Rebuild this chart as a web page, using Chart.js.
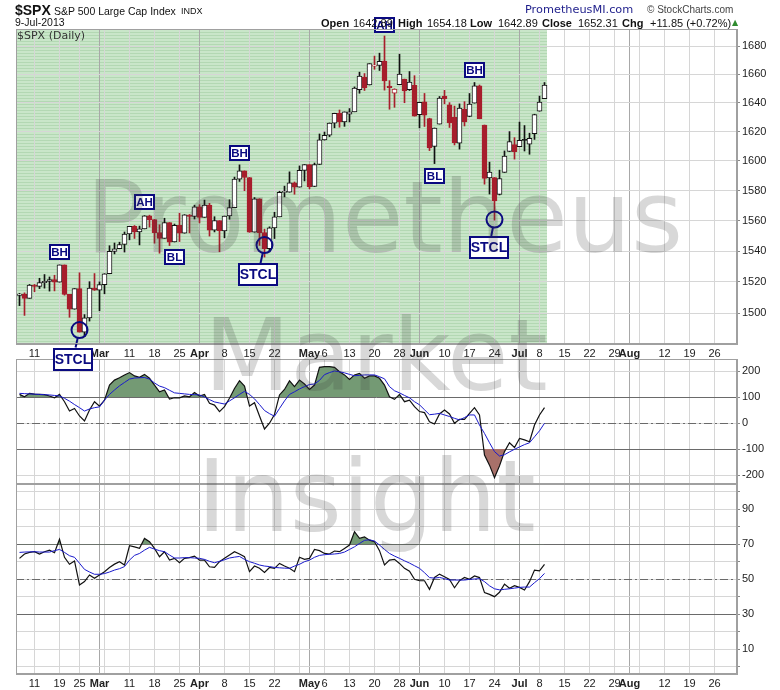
<!DOCTYPE html>
<html>
<head>
<meta charset="utf-8">
<title>$SPX</title>
<script src="https://cdn.jsdelivr.net/npm/chart.js@4.4.1/dist/chart.umd.min.js"></script>
<style>
  body { margin:0; width:780px; height:690px; background:#fff; position:relative; overflow:hidden; font-family:"DejaVu Sans", Verdana, sans-serif; color:#111; }
  .txt { position:absolute; white-space:nowrap; line-height:1; z-index:30; }
  .b { font-weight:bold; font-family:"Liberation Sans", Arial, sans-serif; }
  .n { font-family:"Liberation Sans", Arial, sans-serif; }
  .panel { position:absolute; left:0; width:780px; }
  .wm { position:absolute; font-family:"DejaVu Sans", sans-serif; font-size:100px; line-height:100px; color:rgba(60,60,60,0.2); white-space:nowrap; pointer-events:none; z-index:20; }
</style>
</head>
<body>
<div class="txt b" style="left:15px;top:3px;font-size:14px">$SPX</div>
<div class="txt n" style="left:54px;top:6px;font-size:10.5px">S&amp;P 500 Large Cap Index</div>
<div class="txt n" style="left:181px;top:7px;font-size:9px">INDX</div>
<div class="txt n" style="left:15px;top:17px;font-size:10.5px">9-Jul-2013</div>
<div class="txt" style="left:525px;top:4px;font-size:11.3px;color:#1c1c8a">PrometheusMI.com</div>
<div class="txt n" style="left:647px;top:5px;font-size:10px;color:#444">© StockCharts.com</div>
<div class="txt b" style="left:321px;top:18px;font-size:11px">Open</div>
<div class="txt n" style="left:353px;top:18px;font-size:11px">1642.89</div>
<div class="txt b" style="left:398px;top:18px;font-size:11px">High</div>
<div class="txt n" style="left:427px;top:18px;font-size:11px">1654.18</div>
<div class="txt b" style="left:470px;top:18px;font-size:11px">Low</div>
<div class="txt n" style="left:498px;top:18px;font-size:11px">1642.89</div>
<div class="txt b" style="left:542px;top:18px;font-size:11px">Close</div>
<div class="txt n" style="left:578px;top:18px;font-size:11px">1652.31</div>
<div class="txt b" style="left:622px;top:18px;font-size:11px">Chg</div>
<div class="txt n" style="left:650px;top:18px;font-size:11px">+11.85 (+0.72%)</div>
<div class="txt" style="left:732px;top:19px;font-size:8px;color:#2e8b2e">▲</div>
<div class="txt" style="left:17px;top:30px;font-size:11px;color:#333">$SPX (Daily)</div>

<div class="panel" style="top:484px;height:206px;z-index:1"><canvas id="rsiChart" width="780" height="206"></canvas></div>
<div class="panel" style="top:359px;height:125px;z-index:2"><canvas id="cciChart" width="780" height="125"></canvas></div>
<div class="panel" style="top:0;height:372px;z-index:3"><canvas id="priceChart" width="780" height="372"></canvas></div>

<div class="wm" style="left:86px;top:168px">Prometheus</div>
<div class="wm" style="left:204px;top:306px">Market</div>
<div class="wm" style="left:197px;top:447px">Insight</div>

<script>
// Données : séances du 6 février au 9 juillet 2013
const firstDay = '2013-02-06';
const holidays = ['2013-02-18', '2013-03-29', '2013-05-27', '2013-07-04', '2013-09-02'];
const monthNames = ['Jan', 'Feb', 'Mar', 'Apr', 'May', 'Jun', 'Jul', 'Aug', 'Sep', 'Oct', 'Nov', 'Dec'];

const opens = [1511.29,1512.12,1509.39,1517.93,1517.01,1519.43,1520.33,1521.38,1519.79,1530.94,
  1511.95,1502.42,1515.60,1487.85,1496.94,1515.99,1514.68,1518.20,1525.20,1539.79,
  1541.46,1544.26,1551.15,1556.22,1552.48,1554.52,1563.21,1560.70,1552.10,1548.34,
  1558.71,1545.90,1556.89,1551.69,1563.75,1562.86,1569.18,1562.17,1570.25,1553.69,
  1559.98,1553.26,1563.11,1568.61,1587.73,1593.30,1588.84,1552.36,1574.57,1552.03,
  1541.61,1555.25,1562.50,1578.78,1578.93,1585.16,1582.34,1593.58,1597.55,1582.77,
  1597.60,1614.40,1617.55,1625.95,1632.69,1626.69,1632.10,1633.75,1649.13,1658.07,
  1652.45,1665.71,1666.20,1669.39,1651.62,1646.67,1652.63,1656.57,1649.14,1652.13,
  1631.71,1640.73,1629.05,1609.94,1625.27,1644.67,1638.64,1629.94,1612.15,1635.52,
  1630.64,1639.77,1651.83,1624.62,1588.62,1588.77,1577.52,1592.27,1606.44,1611.12,
  1609.78,1614.29,1611.48,1618.65,1634.20,1642.89];
const highs = [1512.53,1512.90,1518.31,1518.31,1522.29,1524.69,1523.14,1524.24,1530.94,1530.94,
  1511.95,1515.64,1525.84,1498.99,1520.08,1525.34,1519.99,1525.27,1543.47,1545.25,
  1545.78,1552.48,1556.27,1556.77,1556.39,1563.32,1563.62,1560.70,1557.25,1561.56,
  1558.71,1557.74,1564.91,1563.95,1564.07,1570.28,1570.57,1573.66,1571.47,1562.60,
  1559.98,1563.07,1573.89,1589.07,1597.35,1593.30,1588.84,1575.35,1574.57,1554.38,
  1555.89,1565.55,1579.58,1583.00,1592.64,1585.78,1596.65,1597.57,1597.55,1598.60,
  1618.46,1619.77,1626.03,1632.78,1635.01,1633.70,1636.00,1651.10,1661.49,1660.51,
  1667.47,1672.84,1674.93,1687.18,1655.50,1649.78,1674.21,1656.57,1661.91,1658.99,
  1640.42,1646.53,1629.31,1622.56,1644.40,1648.69,1640.13,1637.71,1639.25,1640.80,
  1646.50,1654.19,1652.45,1624.62,1599.19,1588.77,1593.79,1606.83,1620.07,1615.94,
  1626.61,1624.26,1618.97,1632.07,1644.68,1654.18];
const lows = [1504.71,1498.49,1509.39,1513.61,1515.61,1515.93,1514.02,1514.14,1519.79,1511.41,
  1497.29,1502.42,1487.85,1485.01,1494.88,1514.46,1501.48,1512.29,1525.20,1538.11,
  1541.46,1539.32,1547.36,1548.24,1544.00,1554.52,1555.74,1545.13,1538.57,1548.34,
  1543.55,1545.90,1546.22,1551.69,1551.90,1561.08,1558.47,1562.17,1549.80,1552.52,
  1539.50,1548.63,1560.92,1568.61,1586.17,1579.97,1552.28,1552.36,1543.69,1536.03,
  1539.40,1548.19,1562.50,1575.80,1578.93,1577.56,1582.34,1586.50,1581.28,1582.77,
  1597.60,1614.21,1616.64,1622.70,1623.09,1623.71,1626.74,1633.75,1646.68,1648.60,
  1652.45,1663.52,1662.67,1648.86,1635.53,1636.88,1652.63,1640.05,1648.61,1630.74,
  1622.72,1623.62,1607.09,1598.23,1625.27,1639.26,1622.92,1610.92,1608.07,1623.96,
  1630.34,1639.77,1628.91,1584.32,1577.70,1560.33,1577.09,1592.27,1606.44,1601.27,
  1609.78,1606.77,1604.57,1614.71,1634.20,1642.89];
const closes = [1512.12,1509.39,1517.93,1517.01,1519.43,1520.33,1521.38,1519.79,1530.94,1511.95,
  1502.42,1515.60,1487.85,1496.94,1515.99,1514.68,1518.20,1525.20,1539.79,1541.46,
  1544.26,1551.18,1556.22,1552.48,1554.52,1563.23,1560.70,1552.10,1548.34,1558.71,
  1545.80,1556.89,1551.69,1563.77,1562.85,1569.19,1562.17,1570.25,1553.69,1559.98,
  1553.28,1563.07,1568.61,1587.73,1593.37,1588.85,1552.36,1574.57,1552.01,1541.61,
  1555.25,1562.50,1578.78,1578.79,1585.16,1582.24,1593.61,1597.57,1582.70,1597.59,
  1614.42,1617.50,1625.96,1632.69,1626.67,1633.70,1633.77,1650.34,1658.78,1650.47,
  1667.47,1666.29,1669.16,1655.35,1650.51,1649.60,1660.06,1648.36,1654.41,1630.74,
  1640.42,1631.38,1608.90,1622.56,1643.38,1642.81,1626.13,1612.52,1636.36,1626.73,
  1639.04,1651.81,1628.93,1588.19,1592.43,1573.09,1588.03,1603.26,1613.20,1606.28,
  1614.08,1614.08,1615.41,1631.89,1640.46,1652.31];
const prevClose = 1511.29; // clôture du 5 février

// CCI (ligne noire) et sa moyenne (bleue)
const cciLine = [110,101,114,111,110,109,104,97,110,82,46,56,27,8,50,82,65,88,146,165,
  174,185,194,181,176,187,172,146,120,127,92,97,97,104,101,117,104,110,76,69,
  44,63,95,133,163,142,65,78,27,-23,-1,33,108,129,162,140,165,150,129,146,
  214,217,217,214,197,185,168,185,191,172,181,181,172,146,101,91,110,82,88,63,
  44,40,5,-4,35,50,35,-1,14,14,37,59,31,-123,-162,-210,-165,-110,-76,-94,
  -59,-65,-72,-8,31,59];
const cciAvg = [114,113,112,111,110,109,108,106,104,95,84,71,59,46,54,59,62,88,110,127,
  143,156,169,173,174,175,169,154,142,136,126,116,114,112,110,109,108,100,90,81,
  77,73,85,97,110,122,110,93,71,48,36,26,56,85,110,120,131,140,148,150,
  164,186,194,200,197,193,187,182,183,185,185,185,178,170,140,124,116,106,97,82,
  70,51,32,34,37,31,25,18,12,21,31,31,-8,-40,-76,-110,-127,-122,-111,-101,
  -92,-83,-76,-53,-30,-1];

// RSI (ligne noire) et sa moyenne (bleue)
const rsiLine = [62.0,64.5,65.4,65.8,64.5,65.8,66.7,65.2,72.9,62.6,58.6,60.5,46.8,48.7,52.5,50.6,52.5,54.4,56.8,58.7,
  60.1,58.2,69.2,68.6,67.7,73.4,71.5,67.7,62.9,65.8,61.0,62.0,59.5,62.0,62.4,63.3,61.0,61.0,57.2,56.8,
  60.1,62.0,63.9,65.8,64.5,63.0,54.4,57.6,56.3,54.0,56.8,56.3,59.1,57.6,56.3,54.4,62.6,61.4,62.0,67.1,
  66.4,64.8,64.5,66.2,65.8,67.7,69.6,77.2,73.4,74.3,72.4,71.5,66.4,58.2,61.0,61.4,59.1,56.3,54.6,50.0,
  49.2,49.2,44.3,51.1,53.0,51.5,50.0,45.2,49.2,51.1,50.0,51.9,51.0,42.4,41.4,40.1,42.6,47.3,44.9,46.4,
  45.4,43.9,48.7,55.3,54.8,58.6];
const rsiAvg = [65.4,65.6,65.7,65.8,65.6,65.6,65.6,66.4,67.1,65.4,63.5,62.6,59.2,55.7,54.2,52.9,52.9,53.3,54.2,55.3,
  56.1,57.3,61.0,63.7,64.8,66.7,68.3,67.3,66.4,65.8,63.9,62.2,62.2,62.4,62.4,62.2,62.0,61.4,60.3,59.5,
  60.3,61.2,62.2,62.7,63.1,61.4,60.1,59.2,58.2,57.6,57.3,56.8,56.6,56.4,56.3,57.6,58.6,60.1,61.0,62.6,
  63.7,64.1,64.3,64.5,64.8,65.6,67.1,68.6,70.5,72.3,72.6,71.9,69.6,67.1,64.8,63.3,62.0,60.6,59.3,57.8,
  56.3,53.8,51.0,50.7,51.1,50.4,49.6,49.6,49.6,49.6,50.0,50.2,50.4,48.7,46.3,44.6,44.0,44.3,44.6,45.0,
  45.4,45.6,45.6,48.1,50.4,53.4];

const priceTicks = [1500, 1520, 1540, 1560, 1580, 1600, 1620, 1640, 1660, 1680];
const cciTicks = [-200, -100, 0, 100, 200];
const rsiTicks = [0, 10, 20, 30, 40, 50, 60, 70, 80, 90, 100];
const rsiLabels = [10, 30, 50, 70, 90];

// annotations : séance + cours du centre de l'étiquette, cercle éventuel
const markers = [
  { text: 'BH', day: 8, price: 1539.3 },
  { text: 'STCL', day: 10.7, price: 1471.0, circleDay: 12, circlePrice: 1489.2 },
  { text: 'AH', day: 25, price: 1572.4 },
  { text: 'BL', day: 30.9, price: 1536.3 },
  { text: 'BH', day: 44, price: 1605.4 },
  { text: 'STCL', day: 47.7, price: 1524.6, circleDay: 49, circlePrice: 1543.9 },
  { text: 'AH', day: 73, price: 1695.0 },
  { text: 'BL', day: 83, price: 1590.0 },
  { text: 'BH', day: 91, price: 1662.8 },
  { text: 'STCL', day: 93.9, price: 1542.3, circleDay: 95, circlePrice: 1560.7 }
];

const X_MIN = -0.7, X_MAX = 143.5;

// calendrier des séances (axe des x)
function buildCalendar(n) {
  const days = [];
  const d = new Date(firstDay + 'T00:00:00Z');
  while (days.length < n) {
    const dow = d.getUTCDay();
    const iso = d.toISOString().slice(0, 10);
    if (dow !== 0 && dow !== 6 && !holidays.includes(iso)) days.push(new Date(d));
    d.setUTCDate(d.getUTCDate() + 1);
  }
  return days;
}
const calendar = buildCalendar(Math.floor(X_MAX) + 1);
const monthDays = [];
calendar.forEach((d, i) => {
  if (i > 0 && d.getUTCMonth() !== calendar[i - 1].getUTCMonth()) monthDays.push(i);
});
const dateTicks = [];
calendar.forEach((d, i) => {
  if (i === 0) return;
  if (monthDays.includes(i)) {
    dateTicks.push({ value: i, label: monthNames[d.getUTCMonth()] });
  } else if (d.getUTCDay() < calendar[i - 1].getUTCDay()) {
    const crowded = monthDays.some(m => Math.abs(m - i) < 3);
    dateTicks.push({ value: i, label: crowded ? '' : String(d.getUTCDate()) });
  }
});

const AXIS_FONT = 'Liberation Sans, Arial, sans-serif';
const RED = '#a71e2c';
const NAVY = '#0a0a80';

function xScale(showLabels, height) {
  return {
    type: 'linear', min: X_MIN, max: X_MAX, offset: false,
    afterBuildTicks: s => { s.ticks = dateTicks.map(t => ({ value: t.value })); },
    afterFit: s => { s.height = height; s.paddingLeft = 0; s.paddingRight = 0; },
    grid: {
      offset: false, drawTicks: false,
      color: c => (c.tick && monthDays.includes(c.tick.value)) ? '#a8a8a8' : '#d6d6d6'
    },
    border: { display: true, color: '#a0a0a0' },
    ticks: {
      display: showLabels, autoSkip: false, maxRotation: 0, padding: 3, color: '#222',
      font: c => ({ family: AXIS_FONT, size: 11, weight: (c.tick && monthDays.includes(c.tick.value)) ? 'bold' : 'normal' }),
      callback: (v, i) => dateTicks[i] ? dateTicks[i].label : ''
    }
  };
}

function yScale(type, min, max, ticks, labelFn) {
  return {
    type: type, position: 'right', min: min, max: max,
    afterBuildTicks: s => { s.ticks = ticks.map(v => ({ value: v })); },
    afterFit: s => { s.width = 43; s.paddingTop = 0; s.paddingBottom = 0; },
    grid: { color: '#d6d6d6', tickLength: 3, tickColor: '#888' },
    border: { display: true, color: '#a0a0a0' },
    ticks: { padding: 2, color: '#222', font: { family: AXIS_FONT, size: 11 }, callback: labelFn }
  };
}

// stries vertes derrière les chandeliers
function stripePattern(ctx) {
  const c = document.createElement('canvas');
  c.width = 4; c.height = 3;
  const g = c.getContext('2d');
  g.fillStyle = '#c9e6c9'; g.fillRect(0, 0, 4, 3);
  g.fillStyle = '#b3d8b3'; g.fillRect(0, 2, 4, 1);
  return ctx.createPattern(c, 'repeat');
}

const panelBg = {
  id: 'panelBg',
  beforeDraw(chart, args, opts) {
    const { ctx, chartArea: a } = chart;
    ctx.save();
    ctx.fillStyle = '#fff';
    ctx.fillRect(a.left, a.top, a.right - a.left, a.bottom - a.top);
    if (opts.green) {
      const endX = chart.scales.x.getPixelForValue(closes.length - 0.5);
      ctx.fillStyle = stripePattern(ctx);
      ctx.fillRect(a.left, a.top, endX - a.left, a.bottom - a.top);
    }
    ctx.restore();
  },
  afterDraw(chart) {
    const { ctx, chartArea: a } = chart;
    ctx.save();
    ctx.strokeStyle = '#a0a0a0';
    ctx.lineWidth = 1;
    ctx.strokeRect(Math.round(a.left) + 0.5, Math.round(a.top) + 0.5, Math.round(a.right - a.left) - 1, Math.round(a.bottom - a.top) - 1);
    ctx.restore();
  }
};

// lignes de référence des indicateurs
const refLines = {
  id: 'refLines',
  beforeDatasetsDraw(chart, args, opts) {
    const { ctx, chartArea: a, scales: { y } } = chart;
    ctx.save();
    ctx.lineWidth = 1;
    ctx.strokeStyle = '#6a6a6a';
    (opts.solid || []).forEach(v => {
      const py = Math.round(y.getPixelForValue(v)) + 0.5;
      ctx.beginPath(); ctx.moveTo(a.left, py); ctx.lineTo(a.right, py); ctx.stroke();
    });
    ctx.setLineDash([8, 3, 2, 3]);
    (opts.dashed || []).forEach(v => {
      const py = Math.round(y.getPixelForValue(v)) + 0.5;
      ctx.beginPath(); ctx.moveTo(a.left, py); ctx.lineTo(a.right, py); ctx.stroke();
    });
    ctx.restore();
  }
};

// étiquettes BH / AH / BL / STCL
const markerPlugin = {
  id: 'markerPlugin',
  afterDatasetsDraw(chart) {
    const { ctx, scales: { x, y } } = chart;
    ctx.save();
    markers.forEach(m => {
      const cx = x.getPixelForValue(m.day);
      const cy = y.getPixelForValue(m.price);
      const big = m.text === 'STCL';
      const w = big ? 40 : 21, h = big ? 23 : 16;
      ctx.strokeStyle = NAVY;
      ctx.lineWidth = 2;
      if (m.circleDay !== undefined) {
        const ox = x.getPixelForValue(m.circleDay);
        const oy = y.getPixelForValue(m.circlePrice);
        const r = 8;
        ctx.beginPath(); ctx.arc(ox, oy, r, 0, Math.PI * 2); ctx.stroke();
        const dx = cx - ox, dy = cy - oy, len = Math.hypot(dx, dy);
        const t = (dy - h / 2) / dy;
        ctx.beginPath();
        ctx.moveTo(ox + dx / len * r, oy + dy / len * r);
        ctx.lineTo(ox + dx * t, oy + dy * t);
        ctx.stroke();
      }
      const bx = Math.round(cx - w / 2), by = Math.round(cy - h / 2);
      ctx.fillStyle = '#fff';
      ctx.fillRect(bx, by, w, h);
      ctx.strokeRect(bx + 1, by + 1, w - 2, h - 2);
      ctx.fillStyle = NAVY;
      ctx.font = 'bold ' + (big ? 14 : 11.5) + 'px Liberation Sans, Arial, sans-serif';
      ctx.textAlign = 'center';
      ctx.textBaseline = 'middle';
      ctx.fillText(m.text, bx + w / 2, by + h / 2 + 1);
    });
    ctx.restore();
  }
};

// couleurs des chandeliers
const bodyFill = [], bodyLine = [];
closes.forEach((c, i) => {
  const before = i === 0 ? prevClose : closes[i - 1];
  const col = c >= before ? '#111' : RED;
  bodyLine.push(col);
  bodyFill.push(c >= opens[i] ? '#fff' : col);
});

Chart.defaults.animation = false;
Chart.defaults.plugins.legend.display = false;
Chart.defaults.plugins.tooltip.enabled = false;

new Chart(document.getElementById('priceChart'), {
  type: 'bar',
  data: {
    datasets: [
      {
        label: 'corps', order: 0, grouped: false,
        data: closes.map((c, i) => ({ x: i, y: [opens[i], c] })),
        backgroundColor: bodyFill, borderColor: bodyLine, borderWidth: 1, borderSkipped: false,
        barThickness: 5, maxBarThickness: 5, minBarLength: 1
      },
      {
        label: 'mèches', order: 1, grouped: false,
        data: closes.map((c, i) => ({ x: i, y: [lows[i], highs[i]] })),
        backgroundColor: bodyLine, borderWidth: 0,
        barThickness: 5, maxBarThickness: 1, minBarLength: 1
      }
    ]
  },
  options: {
    responsive: false,
    layout: { padding: { left: 16, top: 29, right: 0, bottom: 0 } },
    scales: {
      x: xScale(true, 28),
      y: yScale('logarithmic', 1480.4, 1692.2, priceTicks, v => String(v))
    },
    plugins: { panelBg: { green: true } }
  },
  plugins: [panelBg, markerPlugin]
});

new Chart(document.getElementById('cciChart'), {
  type: 'line',
  data: {
    datasets: [
      {
        label: 'MA', order: 0, data: cciAvg.map((v, i) => ({ x: i, y: v })),
        borderColor: '#1a1acc', borderWidth: 1, pointRadius: 0, fill: false
      },
      {
        label: 'CCI', order: 1, data: cciLine.map((v, i) => ({ x: i, y: v })),
        borderColor: '#111', borderWidth: 1.2, pointRadius: 0,
        fill: { target: { value: 100 }, above: '#749a74', below: 'rgba(0,0,0,0)' }
      },
      {
        label: 'CCI bas', order: 2, data: cciLine.map((v, i) => ({ x: i, y: v })),
        borderColor: 'rgba(0,0,0,0)', borderWidth: 0, pointRadius: 0,
        fill: { target: { value: -100 }, above: 'rgba(0,0,0,0)', below: '#a8716a' }
      }
    ]
  },
  options: {
    responsive: false,
    layout: { padding: { left: 16, top: 0, right: 0, bottom: 0 } },
    scales: {
      x: xScale(false, 0),
      y: yScale('linear', -234.6, 246.2, cciTicks, v => String(v))
    },
    plugins: { refLines: { solid: [100, -100], dashed: [0] } }
  },
  plugins: [panelBg, refLines]
});

new Chart(document.getElementById('rsiChart'), {
  type: 'line',
  data: {
    datasets: [
      {
        label: 'MA', order: 0, data: rsiAvg.map((v, i) => ({ x: i, y: v })),
        borderColor: '#1a1acc', borderWidth: 1, pointRadius: 0, fill: false
      },
      {
        label: 'RSI', order: 1, data: rsiLine.map((v, i) => ({ x: i, y: v })),
        borderColor: '#111', borderWidth: 1.2, pointRadius: 0,
        fill: { target: { value: 70 }, above: '#749a74', below: 'rgba(0,0,0,0)' }
      }
    ]
  },
  options: {
    responsive: false,
    layout: { padding: { left: 16, top: 0, right: 0, bottom: 0 } },
    scales: {
      x: xScale(true, 16),
      y: yScale('linear', -4.1, 104.5, rsiTicks, v => rsiLabels.includes(v) ? String(v) : '')
    },
    plugins: { refLines: { solid: [70, 30], dashed: [50] } }
  },
  plugins: [panelBg, refLines]
});
</script>
</body>
</html>
